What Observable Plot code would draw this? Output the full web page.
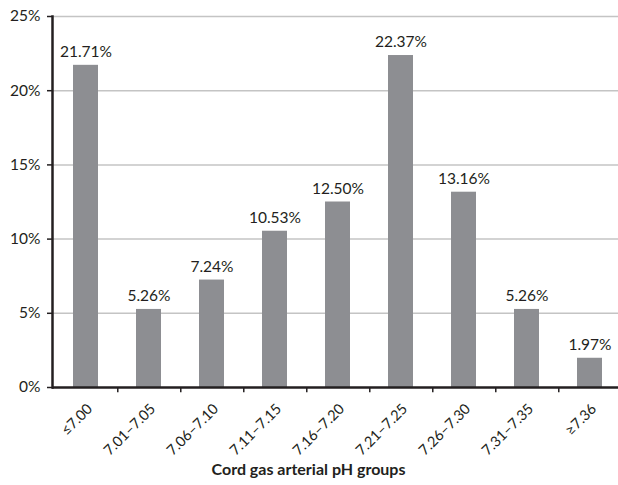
<!DOCTYPE html>
<html>
<head>
<meta charset="utf-8">
<script src="https://cdn.jsdelivr.net/npm/d3@7"></script>
<script src="https://cdn.jsdelivr.net/npm/@observablehq/plot@0.6"></script>
<style>
  html, body { margin: 0; padding: 0; background: #fff; }
  #chart svg { display: block; }
</style>
</head>
<body>
<div id="chart"></div>
<script>
const categories = ["≤7.00", "7.01–7.05", "7.06–7.10", "7.11–7.15", "7.16–7.20", "7.21–7.25", "7.26–7.30", "7.31–7.35", "≥7.36"];
const values = [21.71, 5.26, 7.24, 10.53, 12.50, 22.37, 13.16, 5.26, 1.97];
const yTicks = [0, 5, 10, 15, 20, 25];
const xTitle = "Cord gas arterial pH groups";

const data = categories.map((c, i) => ({group: c, value: values[i]}));

const W = 618, H = 485;
const mL = 52, mR = 0, mT = 16, mB = 98;
const xRange = [52, 624];
const step = (xRange[1] - xRange[0]) / categories.length;

const dark = "#231f20";
const font = "Lato, 'Open Sans', sans-serif";

const chart = Plot.plot({
  width: W,
  height: H,
  marginLeft: mL,
  marginRight: mR,
  marginTop: mT,
  marginBottom: mB,
  style: {fontFamily: font, fontSize: "15px", color: "#231f20", background: "#fff"},
  x: {domain: categories, range: xRange, paddingInner: 0.6, paddingOuter: 0.3, axis: null},
  y: {domain: [0, 25]},
  marks: [
    Plot.ruleY(yTicks.filter(d => d > 0), {stroke: "#c4c4c4", strokeWidth: 1.5}),
    Plot.barY(data, {x: "group", y: "value", fill: "#8d8e92"}),
    Plot.text(data, {x: "group", y: "value", text: d => d.value.toFixed(2) + "%", dy: -13, fill: dark, fontSize: 15.5}),
    Plot.axisY({ticks: yTicks, tickFormat: d => d + "%", tickSize: 5, tickPadding: 7, stroke: dark, strokeWidth: 1.5, label: null, fontSize: 15.5}),
    Plot.text(categories, {x: d => d, y: 0, text: d => d, rotate: -45, textAnchor: "end", dx: 4, dy: 19, fontSize: 14.5, fill: dark}),
    Plot.ruleX(categories.slice(0, -1), {x: d => d, y1: 0, y2: -0.35, dx: step / 2, stroke: dark, strokeWidth: 1.5}),
    Plot.ruleY([0], {stroke: dark, strokeWidth: 2.5}),
    Plot.frame({anchor: "left", stroke: dark, strokeWidth: 2.5}),
    Plot.text([xTitle], {frameAnchor: "bottom", dx: -27, dy: 87, fontWeight: "bold", fontSize: 16, fill: dark})
  ]
});
document.getElementById("chart").appendChild(chart);
</script>
</body>
</html>
